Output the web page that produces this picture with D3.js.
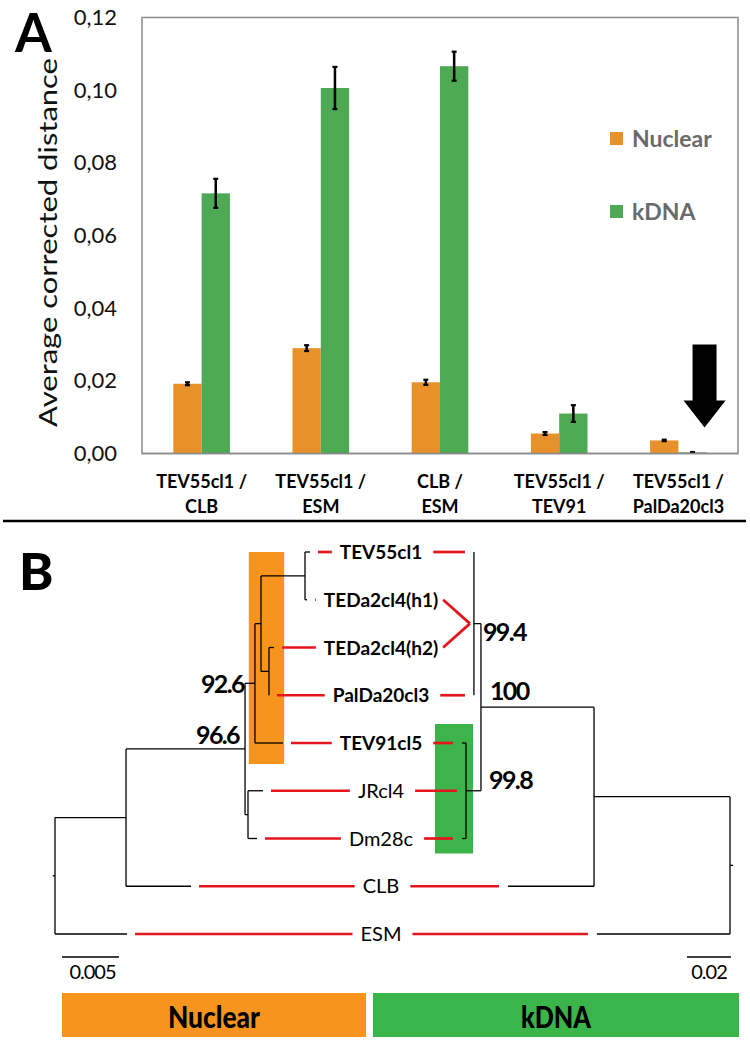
<!DOCTYPE html>
<html><head><meta charset="utf-8">
<script src="https://cdn.jsdelivr.net/npm/d3@7"></script>
<style>body{margin:0;background:#fff} svg{display:block} text{font-family:Lato,"Open Sans",sans-serif}</style>
</head><body>
<svg id="c" width="750" height="1040"></svg>
<script>
// ---------- Panel A data ----------
const categories = ["TEV55cl1 / CLB","TEV55cl1 / ESM","CLB / ESM","TEV55cl1 / TEV91","TEV55cl1 / PalDa20cl3"];
const seriesNames = ["Nuclear","kDNA"];
const nuclearValues = [0.0192, 0.0290, 0.0196, 0.0055, 0.0036];
const nuclearErrors = [0.0004, 0.0008, 0.0007, 0.0004, 0.0002];
const kdnaValues    = [0.0716, 0.1006, 0.1066, 0.0110, 0.0003];
const kdnaErrors    = [0.0040, 0.0058, 0.0040, 0.0023, 0.0001];
const yTicks = [0, 0.02, 0.04, 0.06, 0.08, 0.10, 0.12];
const yTitle = "Average corrected distance";

// ---------- Panel B data ----------
const leafNames = ["TEV55cl1","TEDa2cl4(h1)","TEDa2cl4(h2)","PalDa20cl3","TEV91cl5","JRcl4","Dm28c","CLB","ESM"];
const boldLeaves = ["TEV55cl1","TEDa2cl4(h1)","TEDa2cl4(h2)","PalDa20cl3","TEV91cl5"];
// [node, parent, branch length]
const nuclearEdges = [
  ["root","",0.0002],
  ["n1","root",0.00623],
  ["n2","n1",0.01044],
  ["n3","n2",0.00087],
  ["n4","n3",0.00053],
  ["n5","n4",0.00386],
  ["TEV55cl1","n5",0.00044],
  ["TEDa2cl4(h1)","n5",0.00018],
  ["n6","n4",0.0007],
  ["TEDa2cl4(h2)","n6",0.00044],
  ["PalDa20cl3","n6",0],
  ["TEV91cl5","n3",0.00246],
  ["njd","n2",0.00026],
  ["JRcl4","njd",0.00132],
  ["Dm28c","njd",0.00079],
  ["CLB","n1",0.0057],
  ["ESM","root",0.00632]
];
const kdnaEdges = [
  ["root","",0.0014],
  ["k1","root",0.0618],
  ["k2","k1",0.0514],
  ["k3","k2",0.0032],
  ["TEV55cl1","k3",0],
  ["TEDa2cl4","k3",0],
  ["PalDa20cl3","k3",0],
  ["k4","k2",0.0068],
  ["TEV91cl5","k4",0.0018],
  ["JRcl4","k4",0],
  ["Dm28c","k4",0.0018],
  ["CLB","k1",0.0391],
  ["ESM","root",0.0605]
];
const kdnaMerged = {"TEDa2cl4":["TEDa2cl4(h1)","TEDa2cl4(h2)"]};
const nuclearSupport = [["n2","96.6"],["n3","92.6"]];
const kdnaSupport = [["k3","99.4"],["k2","100"],["k4","99.8"]];
const nuclearScaleBar = 0.005, kdnaScaleBar = 0.02;
const boxLabels = ["Nuclear","kDNA"];

const svg = d3.select("#c");
const ORANGE = "#E8912B", GREEN = "#4EA955";
const colors = d3.scaleOrdinal().domain(seriesNames).range([ORANGE, GREEN]);

// ================= Panel A =================
const L = 142, R = 738, T = 17.5, B = 453.5;
const x = d3.scaleBand().domain(categories).range([L, R]).paddingInner(0.525).paddingOuter(0.2625);
const xs = d3.scaleBand().domain(seriesNames).range([0, x.bandwidth()]);
const y = d3.scaleLinear().domain([0, 0.12]).range([B, T]);

svg.append("text").attr("x", 15).attr("y", 52).attr("font-size", 53).attr("font-weight", 700)
  .attr("font-family", "'Liberation Sans', Arial, sans-serif").text("A");

// frame
svg.append("rect").attr("x", L).attr("y", T).attr("width", R - L).attr("height", B - T)
  .attr("fill", "none").attr("stroke", "#8a8a8a").attr("stroke-width", 1.5);

// y axis labels
const yAxis = d3.axisLeft(y).tickValues(yTicks).tickSize(0).tickPadding(0)
  .tickFormat(d => d3.format(".2f")(d).replace(".", ","));
const ga = svg.append("g").attr("transform", `translate(117,0)`).call(yAxis);
ga.select(".domain").remove();
ga.selectAll("text").attr("font-size", 22).attr("fill", "#111").attr("font-family", "Lato, sans-serif");

svg.append("text").attr("transform", `translate(57,${(58 + 427) / 2}) rotate(-90)`)
  .attr("text-anchor", "middle").attr("font-size", 25).attr("fill", "#111")
  .attr("textLength", 369).attr("lengthAdjust", "spacingAndGlyphs").text(yTitle);

// bars
const rows = categories.map((c, i) => ({c, vals: [
  {s: "Nuclear", v: nuclearValues[i], e: nuclearErrors[i]},
  {s: "kDNA", v: kdnaValues[i], e: kdnaErrors[i]}]}));
const g = svg.selectAll("g.cat").data(rows).join("g").attr("class", "cat").attr("transform", d => `translate(${x(d.c)},0)`);
g.selectAll("rect").data(d => d.vals).join("rect")
  .attr("x", d => xs(d.s)).attr("width", xs.bandwidth())
  .attr("y", d => y(d.v)).attr("height", d => y(0) - y(d.v)).attr("fill", d => colors(d.s));
// error bars
const eb = g.selectAll("g.eb").data(d => d.vals).join("g").attr("class", "eb")
  .attr("transform", d => `translate(${xs(d.s) + xs.bandwidth() / 2},0)`);
eb.append("line").attr("y1", d => y(d.v + d.e)).attr("y2", d => y(d.v - d.e)).attr("stroke", "#000").attr("stroke-width", 2.5);
eb.append("line").attr("x1", -2.5).attr("x2", 2.5).attr("y1", d => y(d.v + d.e)).attr("y2", d => y(d.v + d.e)).attr("stroke", "#000").attr("stroke-width", 2.2);
eb.append("line").attr("x1", -2.5).attr("x2", 2.5).attr("y1", d => y(d.v - d.e)).attr("y2", d => y(d.v - d.e)).attr("stroke", "#000").attr("stroke-width", 2.2);

// bottom axis line
svg.append("line").attr("x1", L).attr("x2", R).attr("y1", B).attr("y2", B).attr("stroke", "#8a8a8a").attr("stroke-width", 1.5);

// category labels
categories.forEach(c => {
  const parts = c.split(" / ");
  const t = svg.append("text").attr("text-anchor", "middle").attr("font-size", 18).attr("font-weight", 700).attr("fill", "#000");
  t.append("tspan").attr("x", x(c) + x.bandwidth() / 2).attr("y", 488).text(parts[0] + " /");
  t.append("tspan").attr("x", x(c) + x.bandwidth() / 2).attr("y", 513).text(parts[1]);
});

// legend
seriesNames.forEach((s, i) => {
  const ly = 139 + i * 73;
  svg.append("rect").attr("x", 610).attr("y", ly - 7).attr("width", 13).attr("height", 13).attr("fill", colors(s));
  svg.append("text").attr("x", 632).attr("y", ly + 8).attr("font-size", 23).attr("font-weight", 700).attr("fill", "#6a6a6a").text(s);
});

// arrow pointing at last kDNA bar
{
  const cx = x(categories[4]) + xs("kDNA") + xs.bandwidth() / 2 + 12;
  const tip = y(kdnaValues[4]) - 25;
  const p = d3.path();
  p.moveTo(cx - 12, tip - 83); p.lineTo(cx + 12, tip - 83); p.lineTo(cx + 12, tip - 27);
  p.lineTo(cx + 21, tip - 27); p.lineTo(cx, tip); p.lineTo(cx - 21, tip - 27); p.lineTo(cx - 12, tip - 27); p.closePath();
  svg.append("path").attr("d", p.toString()).attr("fill", "#000");
}

// separator
svg.append("line").attr("x1", 3).attr("x2", 746).attr("y1", 521).attr("y2", 521).attr("stroke", "#000").attr("stroke-width", 2.5);

// ================= Panel B =================
svg.append("text").attr("x", 19).attr("y", 590).attr("font-size", 52).attr("font-weight", 900).text("B");

const ly = d3.scaleLinear().domain([0, leafNames.length - 1]).range([552, 934]);
const nx = d3.scaleLinear().domain([0, 0.005]).range([55, 112]);
const kx = d3.scaleLinear().domain([0, 0.02]).range([730, 686]);
const leafRow = name => kdnaMerged[name] ? d3.mean(kdnaMerged[name], n => leafNames.indexOf(n)) : leafNames.indexOf(name);

function buildTree(edges, xsc) {
  const root = d3.stratify().id(d => d[0]).parentId(d => d[1])(edges);
  root.eachBefore(n => { n.dist = n.parent ? n.parent.dist + n.data[2] : 0; n.px = xsc(n.dist); });
  root.eachAfter(n => {
    n.py = n.children ? (n.children[0].py + n.children[n.children.length - 1].py) / 2 : ly(leafRow(n.id));
  });
  return root;
}
const nTree = buildTree(nuclearEdges, nx);
const kTree = buildTree(kdnaEdges, kx);

// highlight boxes (behind tree)
svg.append("rect").attr("x", nx(0.0170)).attr("y", ly(0)).attr("width", nx(0.0201) - nx(0.0170))
  .attr("height", ly(4) + 21 - ly(0)).attr("fill", "#F7941D");
svg.append("rect").attr("x", kx(0.1341)).attr("y", ly(4) - 19).attr("width", kx(0.1168) - kx(0.1341))
  .attr("height", ly(6) + 15 - (ly(4) - 19)).attr("fill", "#3CB44A");

function drawTree(root, xsc) {
  const gt = svg.append("g").attr("stroke", "#000").attr("stroke-width", 1.3).attr("fill", "none");
  root.each(n => {
    if (n.parent) gt.append("line").attr("x1", n.parent.px).attr("x2", n.px).attr("y1", n.py).attr("y2", n.py);
    else gt.append("line").attr("x1", xsc(-n.data[2])).attr("x2", n.px).attr("y1", n.py).attr("y2", n.py);
    if (n.children) gt.append("line").attr("x1", n.px).attr("x2", n.px)
      .attr("y1", n.children[0].py).attr("y2", n.children[n.children.length - 1].py);
  });
}
drawTree(nTree, nx);
drawTree(kTree, kx);

// leaf labels + red connectors
const labelX = 381;
const nLeaf = {}; nTree.leaves().forEach(l => nLeaf[l.id] = l);
const kLeaf = {}; kTree.leaves().forEach(l => kLeaf[l.id] = l);
const red = svg.append("g").attr("stroke", "#E3161D").attr("stroke-width", 2.7).attr("fill", "none");
leafNames.forEach((name, i) => {
  const yy = ly(i);
  const bold = boldLeaves.includes(name);
  const t = svg.append("text").attr("x", labelX).attr("y", yy + 7).attr("text-anchor", "middle")
    .attr("font-size", bold ? 19 : 20).attr("font-weight", bold ? 700 : 400).attr("fill", "#000").text(name);
  const w = t.node().getComputedTextLength();
  const left = labelX - w / 2, right = labelX + w / 2;
  const nt = nLeaf[name];
  red.append("line").attr("x1", nt.px + 8).attr("x2", left - 8).attr("y1", yy).attr("y2", yy);
  let kname = name;
  for (const k in kdnaMerged) if (kdnaMerged[k].includes(name)) kname = k;
  const kt = kLeaf[kname];
  if (kname !== name) {
    red.append("line").attr("x1", right + 5).attr("y1", yy).attr("x2", kt.px - 4).attr("y2", kt.py);
  } else {
    red.append("line").attr("x1", right + 11).attr("x2", kt.px - 9).attr("y1", yy).attr("y2", yy);
  }
});

// bootstrap supports
const supStyle = t => t.attr("font-size", 25).attr("font-weight", 700).attr("letter-spacing", -1.6).attr("fill", "#000");
const nNode = {}; nTree.each(n => nNode[n.id] = n);
const kNode = {}; kTree.each(n => kNode[n.id] = n);
const nOff = {"n2": [-6, -5], "n3": [-11, 10]};
nuclearSupport.forEach(([id, s]) => {
  const n = nNode[id];
  svg.append("text").attr("x", n.px + nOff[id][0]).attr("y", n.py + nOff[id][1]).attr("text-anchor", "end").text(s).call(supStyle);
});
const kOff = {"k3": [9, 17], "k2": [9, -7], "k4": [23, -2]};
kdnaSupport.forEach(([id, s]) => {
  const n = kNode[id];
  svg.append("text").attr("x", n.px + kOff[id][0]).attr("y", n.py + kOff[id][1]).attr("text-anchor", "start").text(s).call(supStyle);
});

// scale bars
const sbY = 957;
svg.append("line").attr("x1", 62).attr("x2", 62 + nx(nuclearScaleBar) - nx(0)).attr("y1", sbY).attr("y2", sbY).attr("stroke", "#000").attr("stroke-width", 1.5);
svg.append("text").attr("x", 62 + (nx(nuclearScaleBar) - nx(0)) / 2 + 2).attr("y", 979).attr("text-anchor", "middle").attr("font-size", 20).attr("letter-spacing", -1).text(String(nuclearScaleBar));
svg.append("line").attr("x1", 731 - (kx(0) - kx(kdnaScaleBar))).attr("x2", 731).attr("y1", sbY).attr("y2", sbY).attr("stroke", "#000").attr("stroke-width", 1.5);
svg.append("text").attr("x", 731 - (kx(0) - kx(kdnaScaleBar)) / 2).attr("y", 979).attr("text-anchor", "middle").attr("font-size", 20).attr("letter-spacing", -1).text(String(kdnaScaleBar));

// bottom boxes
const boxes = [{x0: 62, x1: 366, fill: "#F7941D", w: 92}, {x0: 373, x1: 739, fill: "#3AB54A", w: 70}];
boxLabels.forEach((lab, i) => {
  const b = boxes[i];
  svg.append("rect").attr("x", b.x0).attr("y", 993).attr("width", b.x1 - b.x0).attr("height", 44).attr("fill", b.fill);
  svg.append("text").attr("x", (b.x0 + b.x1) / 2).attr("y", 1028).attr("text-anchor", "middle")
    .attr("font-size", 31).attr("font-weight", 900).attr("fill", "#000")
    .attr("textLength", b.w).attr("lengthAdjust", "spacingAndGlyphs").text(lab);
});
</script>
</body></html>
